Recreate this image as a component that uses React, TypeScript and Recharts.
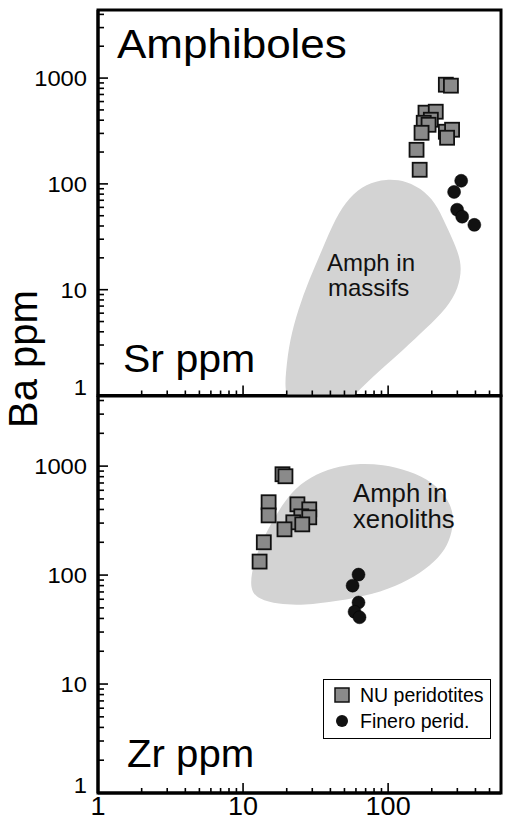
import React from 'react';
import { ScatterChart, Scatter, XAxis, YAxis, ReferenceArea, Legend } from 'recharts';

// ---------- Top panel: Sr ppm (x) vs Ba ppm (y) ----------
const srNU = [250, 271, 181, 213, 197, 176, 190, 170, 250, 276, 255, 157, 165];
const baNUvsSr = [866, 848, 471, 481, 404, 378, 362, 304, 311, 325, 273, 210, 136];
const srFinero = [319, 285, 299, 324, 393];
const baFineroVsSr = [107, 84, 57, 49, 41];
// outline of the "Amph in massifs" field
const massifSr = [19.0, 19.7, 21.0, 23.9, 28.5, 35.1, 43.3, 54.2, 70.2, 96.9, 134, 181, 220, 259, 304, 322, 306, 255, 184, 127, 87.9, 57.5, 46.5];
const massifBa = [0.7, 1.74, 3.35, 6.44, 12.4, 23.8, 47.8, 75.5, 100, 112, 107, 85, 61, 36.8, 22.8, 16.1, 10.4, 6.73, 4.35, 2.69, 1.74, 1.0, 0.7];

// ---------- Bottom panel: Zr ppm (x) vs Ba ppm (y) ----------
const zrNU = [18.7, 19.6, 15.0, 15.0, 23.7, 28.6, 25.2, 28.6, 22.2, 25.6, 19.3, 13.9, 13.0];
const baNUvsZr = [842, 807, 466, 353, 446, 401, 346, 339, 305, 292, 263, 200, 133];
const zrFinero = [62.5, 56.9, 62.5, 58.7, 63.5];
const baFineroVsZr = [101, 80, 56, 46, 41];
// outline of the "Amph in xenoliths" field
const xenoZr = [11.0, 11.8, 13.9, 17.3, 21.5, 29.0, 42.3, 60.6, 92.5, 139, 204, 260, 286, 272, 239, 181, 126, 79.1, 44.3, 26.4, 17.3, 12.9];
const xenoBa = [73.7, 131, 226, 377, 580, 800, 970, 1060, 1035, 910, 715, 496, 346, 226, 158, 112, 84, 66.5, 57.5, 52.8, 54, 59.7];

// ---------- Axes ----------
const xTicks = [1, 2, 3, 4, 5, 6, 7, 8, 9, 10, 20, 30, 40, 50, 60, 70, 80, 90, 100, 200, 300, 400, 500];
const yTicks = [1, 2, 3, 4, 5, 6, 7, 8, 9, 10, 20, 30, 40, 50, 60, 70, 80, 90, 100, 200, 300, 400, 500, 600, 700, 800, 900, 1000, 2000, 3000, 4000];
const majorTicks = [1, 10, 100, 1000];
const xDomain = [1, 600];
const yDomain = [1, 4400];

const seriesNames = { nu: 'NU peridotites', fin: 'Finero perid.' };
const legendOrder = [seriesNames.nu, seriesNames.fin];

const FONT = '"Liberation Sans", Arial, Helvetica, sans-serif';

const zip = (xs: number[], ys: number[]) => xs.map((x, i) => ({ x, y: ys[i] }));

const isMajor = (v: number) => majorTicks.includes(v);

const makeXTick = (showLabel: boolean) => (props: any) => {
  const { x, y, payload } = props;
  const v = payload.value;
  const len = isMajor(v) ? 10 : 5;
  return (
    <g>
      <line x1={x} x2={x} y1={y} y2={y - len} stroke="#000" strokeWidth={1.6} />
      {showLabel && isMajor(v) && (
        <text
          transform={`translate(${x} ${y + 22}) scale(1.08 1)`}
          textAnchor="middle"
          fontSize={25}
          fontFamily={FONT}
          fill="#000"
        >
          {v}
        </text>
      )}
    </g>
  );
};

const YTick = (props: any) => {
  const { x, y, payload } = props;
  const v = payload.value;
  const major = isMajor(v);
  const len = major ? 10 : 6;
  return (
    <g>
      <line x1={x} x2={x + len} y1={y} y2={y} stroke="#000" strokeWidth={1.6} />
      {major && (
        <text
          transform={`translate(${x - 11} ${y + (v === 1 ? -8 : 0)}) scale(1.08 1)`}
          textAnchor="end"
          dy="0.36em"
          fontSize={22}
          fontFamily={FONT}
          fill="#000"
        >
          {v}
        </text>
      )}
    </g>
  );
};

const Square = (props: any) => {
  const { cx, cy } = props;
  const s = 14;
  return <rect x={cx - s / 2} y={cy - s / 2} width={s} height={s} fill="#8a8a8a" stroke="#111" strokeWidth={1.8} />;
};

const Dot = (props: any) => {
  const { cx, cy } = props;
  return <circle cx={cx} cy={cy} r={6.5} fill="#111" stroke="#000" strokeWidth={0.5} />;
};

const Hidden = () => <g />;

const LegendBox = (props: any) => {
  const items = (props.payload || [])
    .filter((p: any) => p.type !== 'none' && legendOrder.includes(p.value))
    .sort((a: any, b: any) => legendOrder.indexOf(a.value) - legendOrder.indexOf(b.value));
  return (
    <div
      style={{
        border: '1.5px solid #000',
        background: '#fff',
        padding: '2px 6px 4px 10px',
        fontFamily: FONT,
        fontSize: 19.5,
        color: '#000',
        whiteSpace: 'nowrap',
        width: 150,
      }}
    >
      {items.map((p: any) => (
        <div key={p.value} style={{ display: 'flex', alignItems: 'center', height: 26 }}>
          <svg width={16} height={16} style={{ marginRight: 10, flex: 'none' }}>
            {p.value === seriesNames.nu ? (
              <rect x={1} y={1} width={14} height={14} fill="#8a8a8a" stroke="#111" strokeWidth={1.5} />
            ) : (
              <circle cx={8} cy={8} r={6} fill="#111" />
            )}
          </svg>
          <span>{p.value}</span>
        </div>
      ))}
    </div>
  );
};

type PanelProps = {
  top: number;
  height: number;
  marginTop: number;
  xAxisHeight: number;
  showXLabels: boolean;
  nu: { x: number; y: number }[];
  fin: { x: number; y: number }[];
  field: { x: number; y: number }[];
  legend?: boolean;
};

function Panel({ top, height, marginTop, xAxisHeight, showXLabels, nu, fin, field, legend }: PanelProps) {
  return (
    <div style={{ position: 'absolute', left: 0, top }}>
      <ScatterChart width={505} height={height} margin={{ top: marginTop, right: 4, bottom: 0, left: 0 }}>
        <Scatter
          name="field"
          data={field}
          fill="#d3d3d3"
          line={{ fill: '#d3d3d3', stroke: 'none' }}
          lineType="joint"
          lineJointType="basisClosed"
          shape={Hidden}
          legendType="none"
          isAnimationActive={false}
        />
        <Scatter name={seriesNames.nu} data={nu} fill="#8a8a8a" shape={Square} isAnimationActive={false} />
        <Scatter name={seriesNames.fin} data={fin} fill="#111" shape={Dot} isAnimationActive={false} />
        <ReferenceArea
          x1={xDomain[0]}
          x2={xDomain[1]}
          y1={yDomain[0]}
          y2={yDomain[1]}
          fill="none"
          fillOpacity={0}
          stroke="#000"
          strokeWidth={3}
        />
        <XAxis
          dataKey="x"
          type="number"
          scale="log"
          domain={xDomain}
          allowDataOverflow
          ticks={xTicks}
          interval={0}
          tick={makeXTick(showXLabels)}
          tickLine={false}
          tickSize={0}
          tickMargin={0}
          axisLine={{ stroke: '#000', strokeWidth: 3 }}
          height={xAxisHeight}
        />
        <YAxis
          dataKey="y"
          type="number"
          scale="log"
          domain={yDomain}
          allowDataOverflow
          ticks={yTicks}
          interval={0}
          tick={YTick}
          tickLine={false}
          tickSize={0}
          tickMargin={0}
          axisLine={{ stroke: '#000', strokeWidth: 3 }}
          width={98}
        />
        {legend && (
          <Legend
            layout="vertical"
            align="center"
            verticalAlign="middle"
            content={LegendBox}
            wrapperStyle={{ position: 'absolute', left: 323, top: 299, width: 'auto', height: 'auto' }}
          />
        )}
      </ScatterChart>
    </div>
  );
}

export default function App() {
  return (
    <div style={{ position: 'absolute', left: 0, top: 0, width: 505, height: 821, background: '#fff', overflow: 'hidden' }}>
      <Panel
        top={0}
        height={400}
        marginTop={10}
        xAxisHeight={4.5}
        showXLabels={false}
        nu={zip(srNU, baNUvsSr)}
        fin={zip(srFinero, baFineroVsSr)}
        field={zip(massifSr, massifBa)}
      />
      <Panel
        top={380}
        height={441}
        marginTop={16}
        xAxisHeight={28}
        showXLabels={true}
        nu={zip(zrNU, baNUvsZr)}
        fin={zip(zrFinero, baFineroVsZr)}
        field={zip(xenoZr, xenoBa)}
        legend
      />
      <svg
        width={505}
        height={821}
        style={{ position: 'absolute', left: 0, top: 0, pointerEvents: 'none' }}
        fontFamily={FONT}
      >
        <text transform="translate(117 58) scale(1.1 1)" fontSize={40} fill="#000">Amphiboles</text>
        <text transform="translate(123 372) scale(1.08 1)" fontSize={38} fill="#000">Sr ppm</text>
        <text transform="translate(127 767) scale(1.03 1)" fontSize={39} fill="#000">Zr ppm</text>
        <text transform="translate(327 271)" fontSize={24} fill="#111">Amph in</text>
        <text transform="translate(328 296)" fontSize={24} fill="#111">massifs</text>
        <text transform="translate(353 502) scale(1.03 1)" fontSize={25} fill="#111">Amph in</text>
        <text transform="translate(353 528) scale(1.03 1)" fontSize={25} fill="#111">xenoliths</text>
        <text transform="translate(37 359) rotate(-90)" textAnchor="middle" fontSize={40} fill="#000">Ba ppm</text>
      </svg>
    </div>
  );
}
